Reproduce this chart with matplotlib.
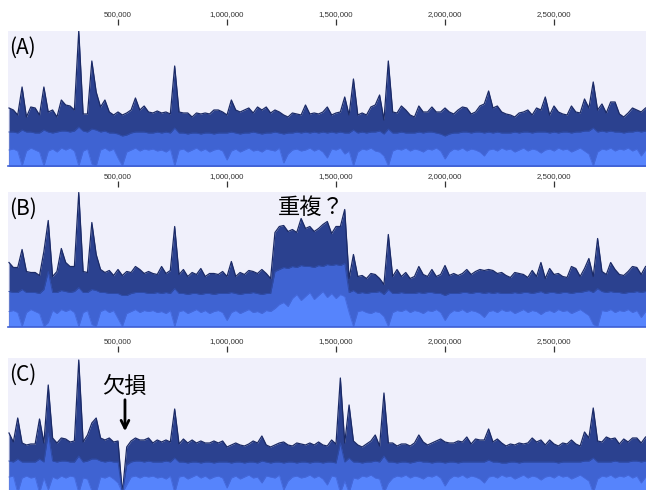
import numpy as np
import matplotlib.pyplot as plt

plt.rcParams['font.family'] = ['Noto Sans CJK JP', 'DejaVu Sans']

# coverage in 20 kb bins, three read classes per sample
step = 20000

cov_a_total = [58, 56, 51, 79, 49, 59, 58, 51, 79, 54,
               56, 49, 66, 61, 60, 56, 135, 52, 52, 105,
               74, 59, 66, 54, 51, 54, 51, 53, 56, 68,
               56, 60, 54, 53, 55, 53, 54, 52, 100, 54,
               53, 53, 49, 53, 52, 53, 52, 56, 56, 54,
               51, 66, 56, 54, 56, 58, 53, 59, 56, 59,
               53, 56, 54, 51, 49, 53, 52, 51, 61, 52,
               53, 52, 54, 59, 51, 53, 54, 69, 51, 87,
               51, 53, 51, 59, 61, 71, 46, 105, 54, 53,
               60, 56, 51, 49, 60, 54, 54, 59, 54, 54,
               58, 54, 52, 56, 59, 58, 52, 54, 60, 62,
               75, 58, 60, 54, 52, 51, 49, 53, 54, 56,
               51, 58, 56, 69, 51, 60, 54, 52, 51, 60,
               54, 53, 67, 58, 84, 56, 62, 53, 64, 64,
               52, 49, 53, 58, 56, 54, 58]
cov_a_mid = [34, 34, 33, 36, 34, 34, 33, 33, 36, 34,
             33, 34, 35, 35, 34, 35, 39, 35, 34, 37,
             36, 34, 35, 33, 33, 32, 30, 31, 33, 34,
             34, 34, 33, 33, 34, 33, 34, 33, 38, 33,
             33, 32, 33, 33, 32, 33, 33, 32, 33, 33,
             33, 34, 33, 32, 33, 33, 34, 33, 32, 33,
             33, 34, 33, 32, 33, 33, 34, 33, 34, 33,
             34, 33, 34, 33, 34, 33, 34, 33, 33, 36,
             33, 34, 33, 34, 34, 35, 32, 37, 33, 33,
             34, 33, 33, 33, 34, 33, 34, 34, 33, 32,
             30, 32, 33, 33, 34, 34, 33, 34, 34, 33,
             34, 33, 34, 33, 33, 33, 34, 33, 34, 34,
             33, 34, 34, 34, 33, 34, 33, 34, 34, 33,
             34, 34, 35, 35, 38, 34, 35, 34, 35, 34,
             34, 33, 34, 34, 35, 34, 35]
cov_a_high = [16, 17, 15, 0, 15, 18, 16, 14, 0, 15,
              17, 14, 18, 16, 18, 15, 0, 15, 17, 2,
              0, 16, 18, 15, 17, 8, 0, 14, 16, 18,
              15, 17, 16, 17, 15, 16, 14, 17, 0, 16,
              17, 14, 16, 18, 15, 17, 14, 16, 17, 15,
              6, 15, 17, 14, 16, 18, 15, 16, 14, 17,
              16, 15, 18, 3, 12, 16, 17, 15, 16, 18,
              15, 17, 14, 8, 17, 16, 18, 12, 15, 0,
              14, 17, 16, 18, 15, 14, 10, 0, 15, 17,
              16, 18, 15, 17, 16, 14, 17, 16, 18, 15,
              7, 14, 17, 16, 18, 15, 17, 16, 14, 10,
              16, 17, 15, 18, 16, 17, 14, 16, 18, 15,
              17, 16, 13, 16, 17, 15, 18, 16, 17, 14,
              16, 18, 15, 12, 0, 14, 17, 16, 18, 15,
              17, 16, 18, 15, 17, 10, 16]

cov_b_total = [64, 59, 59, 77, 55, 54, 54, 51, 75, 106,
               50, 55, 78, 64, 60, 60, 134, 55, 54, 104,
               72, 57, 54, 56, 51, 57, 51, 55, 54, 60,
               57, 53, 55, 53, 52, 60, 53, 56, 100, 52,
               57, 50, 54, 52, 58, 50, 53, 53, 52, 55,
               50, 65, 50, 54, 52, 56, 55, 53, 57, 53,
               48, 94, 100, 101, 95, 97, 94, 108, 98, 100,
               95, 98, 102, 105, 93, 100, 100, 117, 48, 72,
               50, 51, 48, 53, 52, 48, 42, 92, 50, 57,
               50, 54, 48, 50, 60, 52, 50, 57, 50, 52,
               61, 51, 53, 51, 53, 57, 52, 55, 57, 56,
               57, 56, 53, 54, 51, 49, 54, 53, 52, 49,
               56, 50, 64, 48, 58, 52, 53, 50, 49, 60,
               58, 50, 58, 68, 50, 88, 55, 52, 64, 57,
               52, 51, 55, 60, 59, 52, 60]
cov_b_mid = [35, 34, 34, 37, 34, 34, 34, 33, 37, 55,
             34, 34, 36, 35, 34, 35, 39, 34, 34, 37,
             36, 34, 34, 33, 33, 33, 31, 31, 33, 34,
             34, 34, 33, 33, 34, 33, 34, 33, 38, 33,
             33, 32, 33, 33, 32, 33, 33, 32, 33, 33,
             33, 34, 33, 32, 33, 33, 34, 33, 32, 33,
             33, 55, 57, 59, 58, 60, 59, 61, 60, 60,
             59, 61, 60, 62, 61, 62, 61, 63, 34, 36,
             33, 34, 33, 34, 34, 35, 32, 37, 33, 33,
             34, 33, 33, 33, 34, 33, 34, 34, 33, 33,
             31, 33, 33, 33, 34, 34, 33, 34, 34, 33,
             34, 33, 34, 33, 33, 33, 34, 33, 34, 34,
             33, 34, 35, 33, 34, 34, 33, 34, 34, 33,
             34, 34, 35, 36, 34, 38, 35, 34, 35, 34,
             34, 33, 34, 34, 35, 34, 35]
cov_b_high = [15, 16, 14, 0, 14, 17, 15, 13, 0, 4,
              16, 13, 17, 15, 17, 14, 0, 14, 16, 2,
              0, 15, 17, 14, 16, 8, 0, 13, 15, 17,
              14, 16, 15, 16, 14, 15, 13, 16, 0, 15,
              16, 13, 15, 17, 14, 16, 13, 15, 16, 14,
              6, 14, 16, 13, 15, 17, 14, 15, 13, 16,
              15, 18, 22, 24, 20, 28, 32, 26, 30, 34,
              27, 31, 35, 29, 33, 28, 32, 30, 14, 0,
              15, 16, 14, 13, 15, 14, 10, 0, 14, 16,
              15, 17, 14, 16, 15, 13, 16, 15, 17, 14,
              6, 13, 16, 15, 17, 14, 16, 15, 13, 9,
              15, 16, 14, 17, 15, 16, 13, 15, 17, 14,
              16, 15, 12, 15, 16, 14, 17, 15, 16, 13,
              15, 17, 14, 11, 2, 0, 16, 15, 17, 14,
              16, 15, 17, 14, 16, 9, 15]

cov_c_total = [60, 51, 75, 50, 48, 49, 49, 74, 50, 108,
               55, 50, 55, 54, 51, 52, 133, 51, 58, 70,
               75, 55, 53, 55, 51, 52, 0, 46, 52, 55,
               53, 53, 55, 50, 53, 51, 53, 51, 84, 49,
               54, 50, 53, 50, 52, 50, 50, 52, 50, 52,
               46, 48, 50, 48, 47, 49, 52, 50, 57, 48,
               46, 48, 50, 51, 48, 47, 50, 49, 48, 50,
               48, 51, 48, 47, 53, 49, 115, 50, 88, 52,
               48, 46, 49, 52, 58, 47, 100, 50, 50, 47,
               49, 49, 47, 50, 58, 51, 48, 50, 52, 54,
               51, 50, 50, 52, 51, 56, 49, 54, 53, 53,
               64, 51, 54, 50, 47, 49, 48, 50, 49, 50,
               55, 51, 53, 48, 53, 49, 47, 50, 49, 53,
               49, 47, 61, 55, 85, 52, 51, 56, 54, 55,
               49, 54, 51, 55, 55, 50, 56]
cov_c_mid = [32, 31, 34, 31, 31, 31, 31, 34, 31, 60,
             32, 31, 32, 32, 31, 31, 37, 31, 32, 34,
             34, 32, 31, 32, 31, 31, 0, 28, 31, 32,
             32, 31, 32, 31, 31, 31, 32, 31, 35, 31,
             31, 30, 31, 31, 30, 31, 31, 30, 31, 31,
             31, 30, 31, 31, 30, 31, 31, 30, 32, 31,
             30, 31, 31, 30, 31, 31, 30, 31, 31, 30,
             31, 31, 30, 31, 31, 30, 50, 31, 35, 31,
             31, 30, 31, 31, 32, 31, 37, 31, 31, 30,
             31, 31, 30, 31, 32, 31, 31, 30, 31, 31,
             30, 31, 31, 30, 31, 31, 31, 31, 31, 31,
             33, 31, 31, 30, 30, 31, 31, 30, 31, 31,
             31, 31, 31, 31, 31, 31, 30, 31, 31, 31,
             31, 31, 32, 32, 35, 31, 31, 31, 31, 32,
             31, 31, 31, 32, 32, 31, 32]
cov_c_high = [16, 17, 0, 15, 17, 15, 16, 0, 15, 3,
              16, 14, 17, 15, 17, 16, 0, 15, 14, 2,
              0, 16, 15, 17, 14, 10, 0, 8, 16, 17,
              15, 17, 16, 17, 15, 16, 14, 17, 0, 16,
              17, 14, 16, 18, 15, 17, 14, 16, 17, 15,
              5, 15, 17, 14, 16, 18, 15, 16, 10, 17,
              16, 15, 18, 3, 12, 16, 17, 15, 16, 18,
              15, 17, 14, 8, 17, 16, 0, 12, 0, 15,
              14, 17, 16, 18, 15, 14, 0, 10, 15, 17,
              16, 18, 15, 17, 16, 14, 17, 16, 18, 15,
              7, 14, 17, 16, 18, 15, 17, 16, 14, 10,
              16, 17, 15, 18, 16, 17, 14, 16, 18, 15,
              17, 16, 13, 16, 17, 15, 18, 16, 17, 14,
              16, 18, 15, 12, 0, 14, 17, 16, 18, 15,
              17, 16, 18, 15, 17, 10, 16]

tick_pos = [500000, 1000000, 1500000, 2000000, 2500000]
panel_labels = ["(A)", "(B)", "(C)"]

bg_color = "#f0f0fb"
dark_color = "#2b418f"
mid_color = "#3f63d2"
light_color = "#5684fc"
edge_color = "#1b2a66"

W, H = 646, 490
fig = plt.figure(figsize=(W / 100, H / 100), dpi=100)


def plot_panel(top, bottom, total, mid, high, label):
    ax = fig.add_axes([8 / W, 1 - bottom / H, 638 / W, (bottom - top) / H])
    ax.set_facecolor(bg_color)
    x = np.arange(len(total)) * step

    ax.fill_between(x, 0, total, color=dark_color, lw=0)
    ax.plot(x, total, color=edge_color, lw=0.9)
    ax.fill_between(x, 0, mid, color=mid_color, lw=0)
    ax.plot(x, mid, color="#2f4ca8", lw=0.7)
    ax.fill_between(x, 0, high, color=light_color, lw=0)
    ax.plot(x, high, color="#4569dc", lw=0.6)

    ax.set_xlim(-4587, 2922019)
    ax.set_ylim(0, bottom - top)

    for s in ["left", "right"]:
        ax.spines[s].set_visible(False)
    ax.spines["bottom"].set_color("#3d5fd4")
    ax.spines["bottom"].set_linewidth(1.2)
    ax.spines["top"].set_position(("outward", 4))
    ax.spines["top"].set_color("none")

    ax.set_yticks([])
    ax.xaxis.tick_top()
    ax.set_xticks(tick_pos)
    ax.set_xticklabels([f"{p:,}" for p in tick_pos], fontsize=5.7,
                       fontfamily="Liberation Sans", color="#333333")
    ax.tick_params(axis="x", direction="out", length=4, width=0.9,
                   pad=1.2, color="#333333")

    ax.text(0.0015, 0.96, label, transform=ax.transAxes, fontsize=15,
            va="top", ha="left", color="black")
    return ax


ax_a = plot_panel(31, 166, cov_a_total, cov_a_mid, cov_a_high, panel_labels[0])
ax_b = plot_panel(192.5, 326.5, cov_b_total, cov_b_mid, cov_b_high, panel_labels[1])
ax_c = plot_panel(358, 493, cov_c_total, cov_c_mid, cov_c_high, panel_labels[2])

# annotations
ax_b.text(1385000, 119, "重複？", fontsize=16, ha="center", va="center")
ax_c.text(527000, 107, "欠損", fontsize=16, ha="center", va="center")
ax_c.annotate("", xy=(532000, 59), xytext=(532000, 96),
              arrowprops=dict(arrowstyle="->", lw=2, color="black",
                              mutation_scale=14))

fig.savefig("out.png", dpi=100)
